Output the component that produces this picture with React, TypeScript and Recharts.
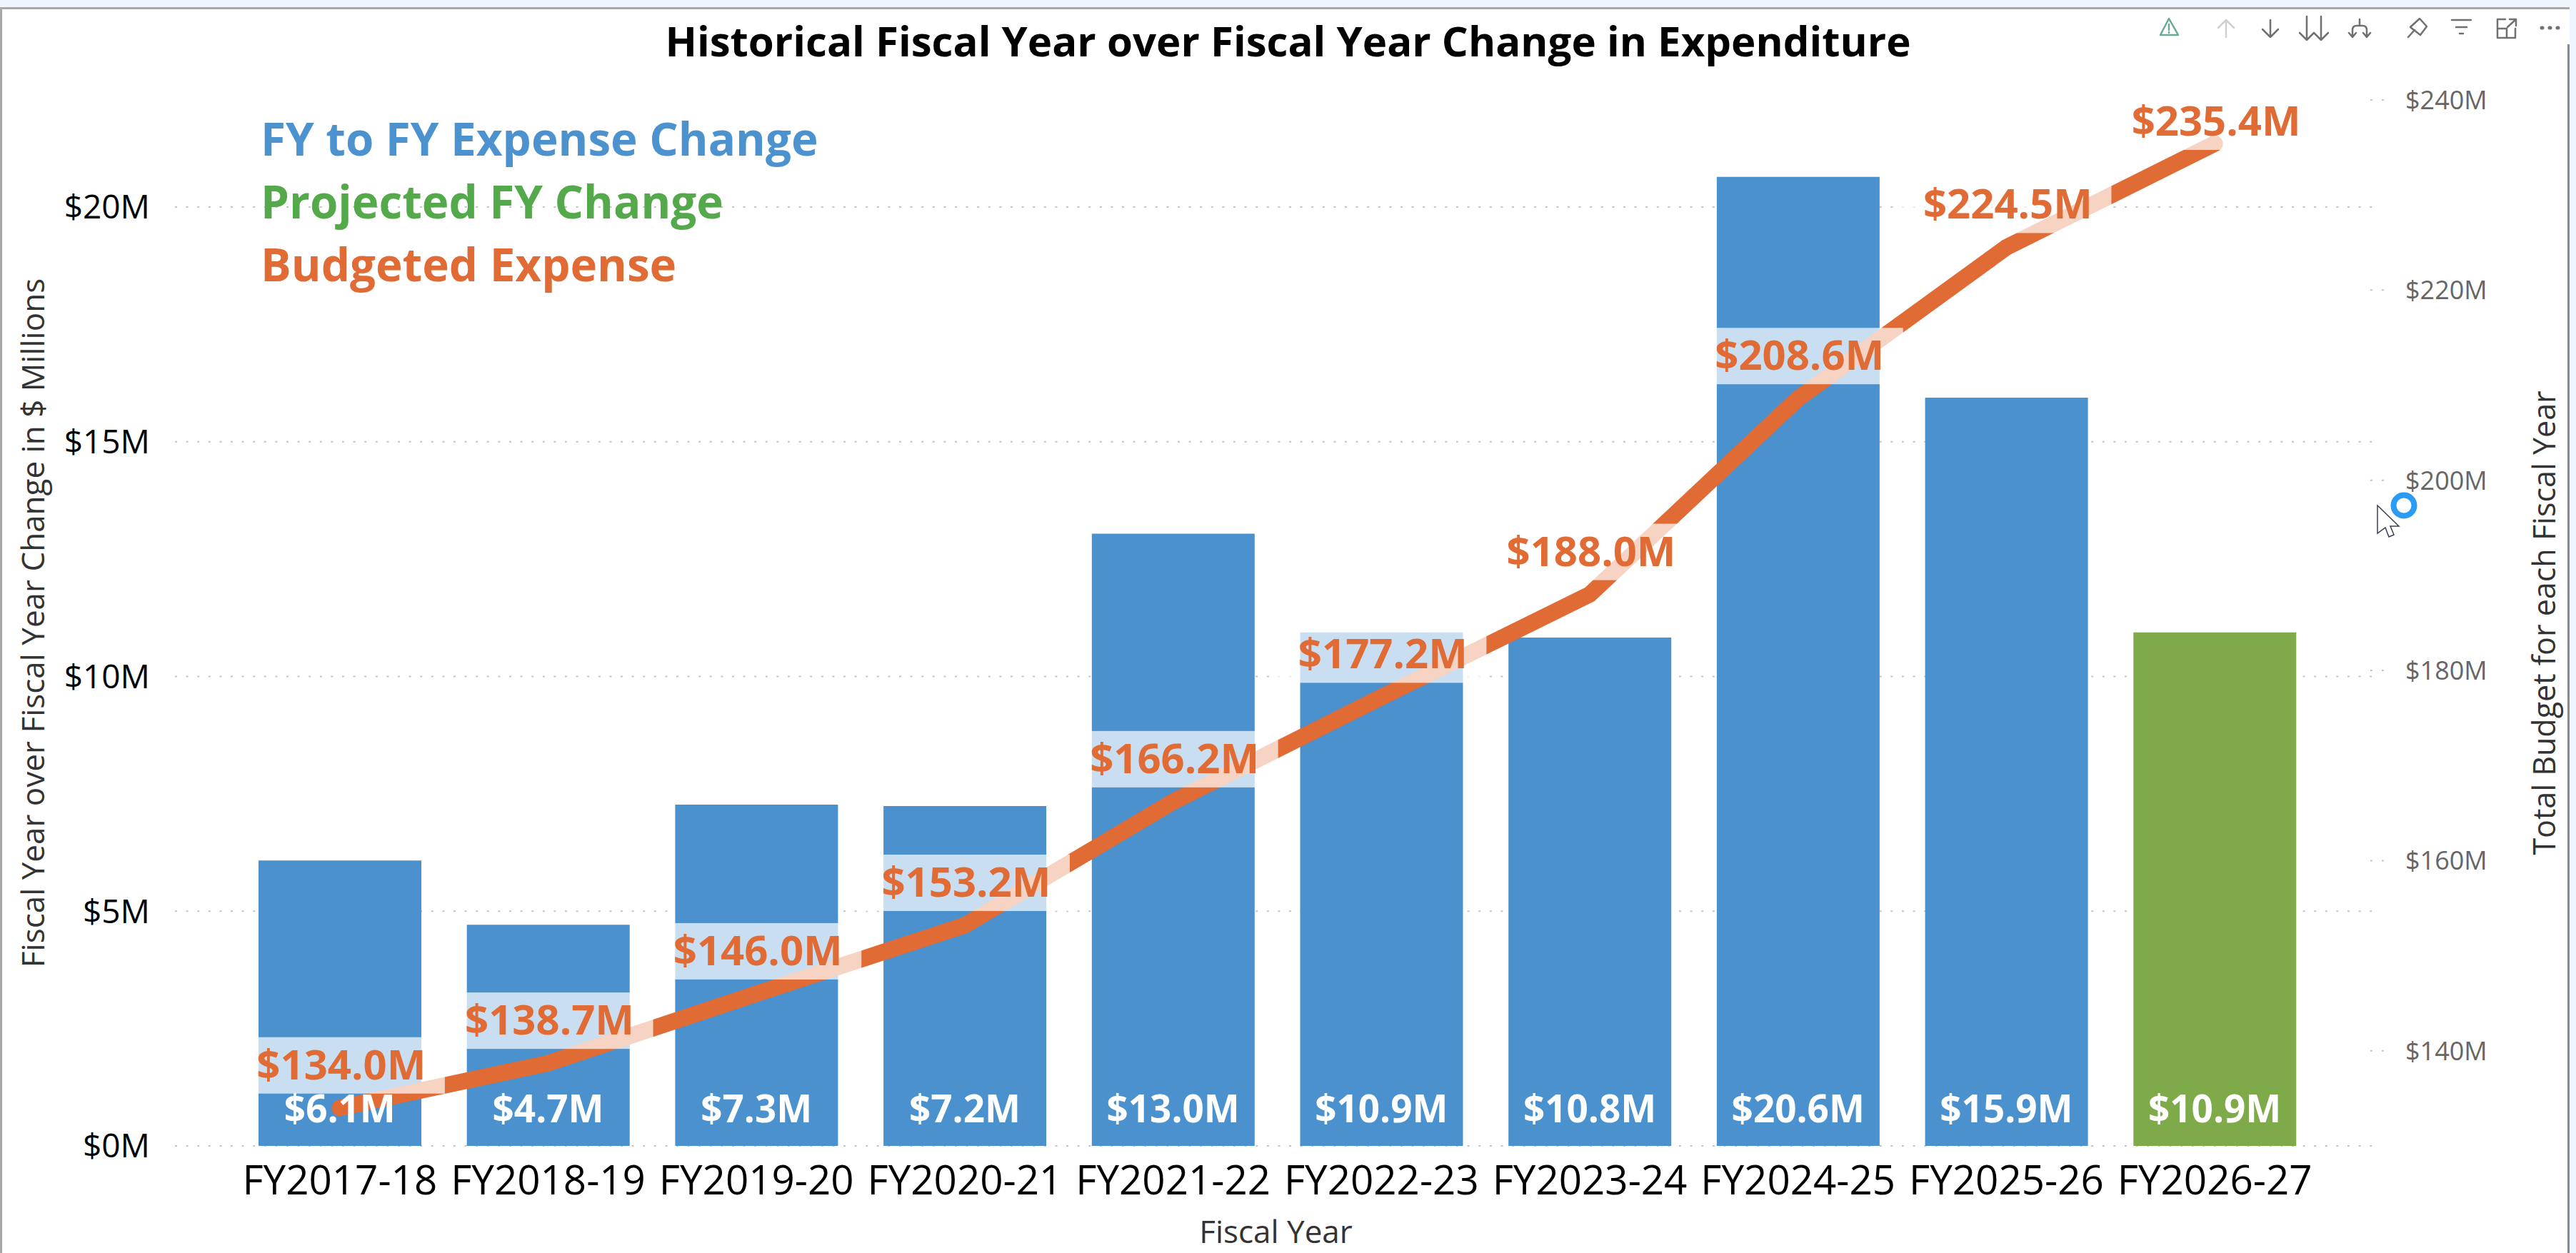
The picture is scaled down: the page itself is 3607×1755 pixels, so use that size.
import React from 'react'
import {
  ComposedChart,
  Bar,
  Line,
  Cell,
  XAxis,
  YAxis,
  CartesianGrid,
  LabelList,
  Label,
} from 'recharts'

const fiscalYears = [
  'FY2017-18',
  'FY2018-19',
  'FY2019-20',
  'FY2020-21',
  'FY2021-22',
  'FY2022-23',
  'FY2023-24',
  'FY2024-25',
  'FY2025-26',
  'FY2026-27',
]
const expenseChange = [6.08, 4.71, 7.27, 7.24, 13.04, 10.94, 10.83, 20.64, 15.94, 10.94]
const budgetedExpense = [134.0, 138.7, 146.0, 153.2, 166.2, 177.2, 188.0, 208.6, 224.5, 235.4]
const changeTicks = [0, 5, 10, 15, 20]
const budgetTicks = [140, 160, 180, 200, 220, 240]

const legendItems = [
  { text: 'FY to FY Expense Change', color: '#4C92CE' },
  { text: 'Projected FY Change', color: '#54A94A' },
  { text: 'Budgeted Expense', color: '#E06B35' },
]

const FONT = '"Open Sans", sans-serif'
const BLUE = '#4B91CD'
const GREEN = '#7FAA4A'
const ORANGE = '#E06B35'

const chartData = fiscalYears.map((year, i) => ({
  year,
  change: expenseChange[i],
  budget: budgetedExpense[i],
}))

const money = (v: number) => `$${v}M`

// white value sitting near the foot of each bar
const BarValue = (props: any) => (
  <text
    x={props.x}
    y={props.y - 33}
    textAnchor="middle"
    fontFamily={FONT}
    fontWeight={700}
    fontSize={53}
    fill="#fff"
  >
    {`$${Number(props.value).toFixed(1)}M`}
  </text>
)

// orange value on a see-through white plate, pushed down at the top of the plot
const BudgetValue = (props: any) => {
  const top = Math.max(props.y - 99, 131)
  return (
    <g>
      <rect x={props.x - 147} y={top} width={294} height={79} fill="#fff" fillOpacity={0.7} />
      <text
        x={props.x + 2}
        y={top + 59}
        textAnchor="middle"
        fontFamily={FONT}
        fontWeight={700}
        fontSize={58}
        fill={ORANGE}
      >
        {`$${Number(props.value).toFixed(1)}M`}
      </text>
    </g>
  )
}

const BudgetTick = (props: any) => (
  <g>
    <line
      x1={props.x - 50}
      x2={props.x - 30}
      y1={props.y}
      y2={props.y}
      stroke="#c4c4c4"
      strokeWidth={2}
      strokeDasharray="3 13"
    />
    <text x={props.x - 1} y={props.y + 13} fontFamily={FONT} fontSize={36} fill="#666">
      {money(props.payload.value)}
    </text>
  </g>
)

// report toolbar, cursor and busy ring from the screen capture
const Chrome = () => (
  <svg width={3607} height={1755} style={{ position: 'absolute', left: 0, top: 0, pointerEvents: 'none' }}>
    <rect x={0} y={0} width={3607} height={10} fill="#EEF5FC" />
    <rect x={0} y={10} width={3600} height={3} fill="#A8A8A8" />
    <rect x={0} y={10} width={3} height={1745} fill="#A8A8A8" />
    <rect x={3598} y={0} width={9} height={1755} fill="#EEF5FC" />
    <rect x={3595} y={62} width={3} height={1693} fill="#8C8C8C" />
    <g fill="none" strokeWidth={2.5} strokeLinecap="round" strokeLinejoin="round">
      <g stroke="#6AA99A">
        <path d="M3037 26 L3050 49 L3025 49 Z" />
        <path d="M3037 34 V42 M3037 45 V46" />
      </g>
      <path d="M3117 52 V28 M3106 39 L3117 28 L3128 39" stroke="#CFCFCF" />
      <g stroke="#707070">
        <path d="M3179 28 V52 M3168 41 L3179 52 L3190 41" />
        <path d="M3230 23 V56 M3220 46 L3230 56 L3240 46" />
        <path d="M3250 23 V56 M3240 46 L3250 56 L3260 46" />
        <path d="M3304 27 V36 M3294 52 V42 Q3294 36 3300 36 H3308 Q3314 36 3314 42 V52 M3289 46 L3294 52 L3299 46 M3309 46 L3314 52 L3319 46" />
        <path d="M3372 52 L3381 42 M3388 26 L3398 37 L3389 49 L3375 38 Z" />
        <path d="M3433 28 H3460 M3439 38 H3454 M3444 47 H3449" />
        <path d="M3508 27 H3497 V53 H3522 V40 M3497 40 H3510 V53 M3511 38 L3523 27 M3514 27 H3523 V36" />
      </g>
      <path d="M3559 39 H3560 M3570 39 H3571 M3581 39 H3582" stroke="#707070" strokeWidth={5} />
    </g>
    <circle cx={3366} cy={708} r={14.5} fill="none" stroke="#2B9BF4" strokeWidth={8} />
    <path d="M3329 708 V747 L3340 739 L3345 752 L3352 749 L3347 737 L3359 737 Z" fill="#fff" stroke="#3A4050" strokeWidth={1.5} />
  </svg>
)

export default function App() {
  return (
    <div
      style={{
        position: 'absolute',
        left: 0,
        top: 0,
        width: 3607,
        height: 1755,
        overflow: 'hidden',
        background: '#fff',
        fontFamily: FONT,
      }}
    >
      <ComposedChart
        width={3607}
        height={1755}
        data={chartData}
        margin={{ top: 140, right: 179, bottom: 50, left: 95 }}
      >
        <CartesianGrid
          yAxisId="left"
          vertical={false}
          horizontalValues={changeTicks}
          stroke="#c4c4c4"
          strokeWidth={2}
          strokeDasharray="3 12.6"
        />
        <XAxis
          dataKey="year"
          interval={0}
          height={100}
          padding={{ left: 85, right: 81 }}
          axisLine={false}
          tickLine={false}
          tickSize={0}
          tickMargin={28}
          tick={{ fontSize: 56.5, fill: '#000', fontFamily: FONT }}
        >
          <Label
            value="Fiscal Year"
            position="insideBottom"
            offset={-36}
            style={{ fontSize: 44, fill: '#333', fontFamily: FONT }}
          />
        </XAxis>
        <YAxis
          yAxisId="left"
          width={150}
          domain={[0, 22.28]}
          ticks={changeTicks}
          tickFormatter={money}
          axisLine={false}
          tickLine={false}
          tickSize={0}
          tickMargin={35}
          tick={{ fontSize: 46, fill: '#000', fontFamily: FONT }}
        >
          <Label
            value="Fiscal Year over Fiscal Year Change in $ Millions"
            angle={-90}
            position="center"
            dx={-124}
            style={{ fontSize: 44, fill: '#333', fontFamily: FONT, textAnchor: 'middle' }}
          />
        </YAxis>
        <YAxis
          yAxisId="right"
          orientation="right"
          width={100}
          domain={[130, 240]}
          ticks={budgetTicks}
          axisLine={false}
          tickLine={false}
          tickSize={0}
          tickMargin={41}
          tick={<BudgetTick />}
        >
          <Label
            value="Total Budget for each Fiscal Year"
            angle={-90}
            position="center"
            dx={185}
            style={{ fontSize: 43, fill: '#333', fontFamily: FONT, textAnchor: 'middle' }}
          />
        </YAxis>
        <Bar yAxisId="left" dataKey="change" barSize={228} isAnimationActive={false}>
          {chartData.map((d, i) => (
            <Cell key={d.year} fill={i === chartData.length - 1 ? GREEN : BLUE} />
          ))}
        </Bar>
        <Line
          yAxisId="right"
          dataKey="budget"
          stroke={ORANGE}
          strokeWidth={23}
          strokeLinecap="round"
          dot={false}
          isAnimationActive={false}
        />
        {/* label carriers: no stroke, only there so the texts stack above the line */}
        <Line
          yAxisId="left"
          dataKey={() => 0}
          stroke="none"
          dot={false}
          legendType="none"
          isAnimationActive={false}
        >
          <LabelList dataKey="change" content={<BarValue />} />
        </Line>
        <Line
          yAxisId="right"
          dataKey="budget"
          stroke="none"
          dot={false}
          legendType="none"
          isAnimationActive={false}
        >
          <LabelList dataKey="budget" content={<BudgetValue />} />
        </Line>
      </ComposedChart>

      <div
        style={{
          position: 'absolute',
          left: 0,
          width: 3607,
          top: 15,
          textAlign: 'center',
          fontSize: 58.2,
          fontWeight: 700,
          lineHeight: '84px',
          color: '#000',
        }}
      >
        Historical Fiscal Year over Fiscal Year Change in Expenditure
      </div>

      <div style={{ position: 'absolute', left: 365, top: 150 }}>
        {legendItems.map((item) => (
          <div
            key={item.text}
            style={{ color: item.color, fontSize: 63.7, fontWeight: 700, lineHeight: '88px', whiteSpace: 'nowrap' }}
          >
            {item.text}
          </div>
        ))}
      </div>

      <Chrome />
    </div>
  )
}
